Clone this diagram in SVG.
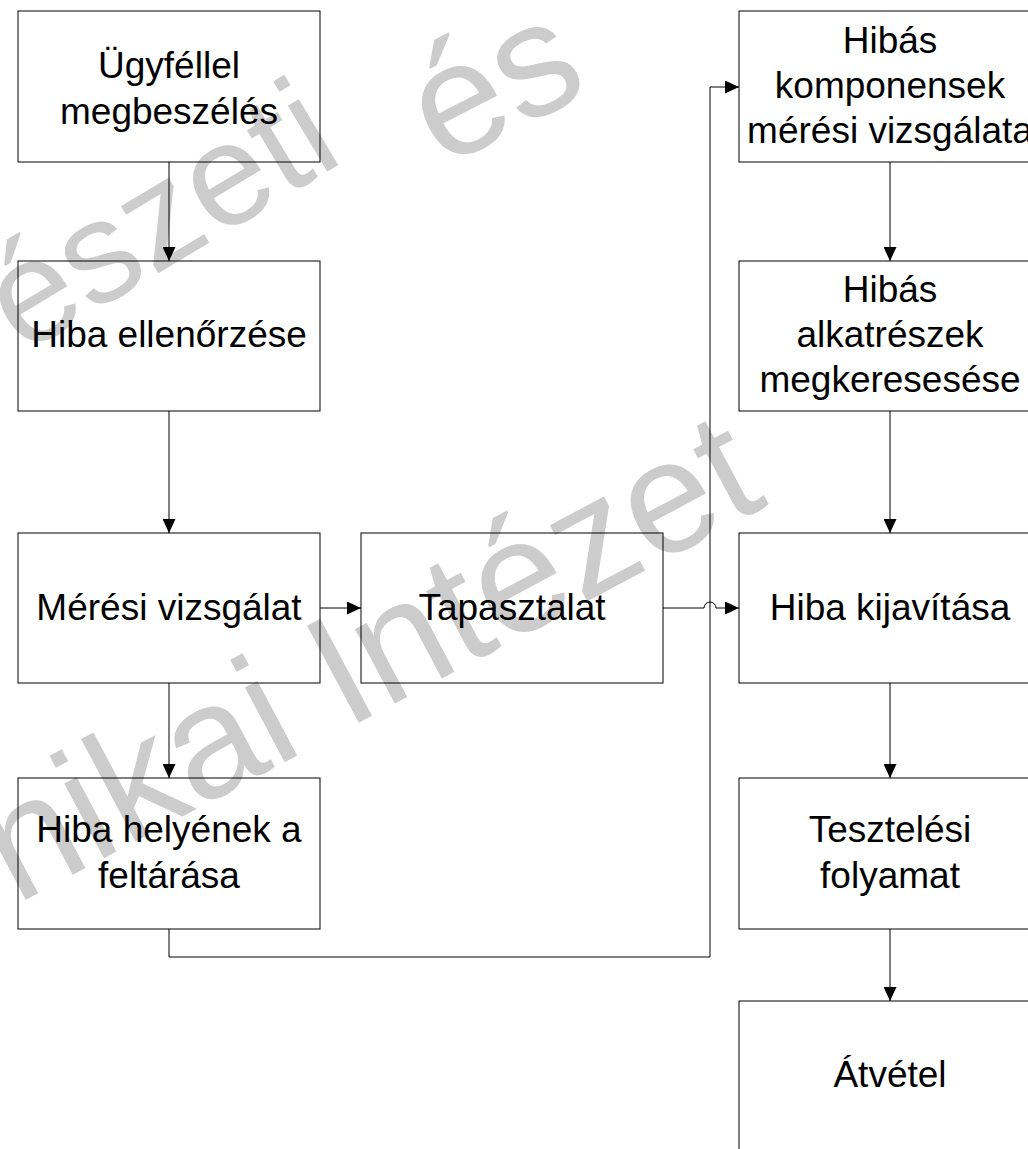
<svg xmlns="http://www.w3.org/2000/svg" width="1028" height="1149" viewBox="0 0 1028 1149">
  <defs>
    <marker id="arrow" viewBox="0 0 14 13" refX="14" refY="6.5" markerWidth="14" markerHeight="13" markerUnits="userSpaceOnUse" orient="auto">
      <path d="M0,0 L14,6.5 L0,13 Z" fill="#000"/>
    </marker>
    <style>
      .box { fill: none; stroke: #000; stroke-width: 1; }
      .lbl { font-family: "Liberation Sans", Arial, sans-serif; font-size: 37px; fill: #000; text-anchor: middle; }
      .wm { font-family: "Liberation Sans", Arial, sans-serif; fill: #cccccc; }
      .conn { fill: none; stroke: #000; stroke-width: 1; }
    </style>
  </defs>
  <rect width="1028" height="1149" fill="#fff"/>

  <!-- background watermark -->
  <g id="watermark">
    <text class="wm" font-size="145" transform="translate(22,355) rotate(-31)">észeti</text>
    <text class="wm" font-size="160" transform="translate(442,168) rotate(-27)">és</text>
    <text class="wm" font-size="160" transform="translate(16,905) rotate(-28)">nikai Intézet</text>
  </g>

  <!-- left column -->
  <g id="n-ugyfel">
    <rect class="box" x="18" y="11" width="302" height="151"/>
    <text class="lbl" x="169" y="78">Ügyféllel</text>
    <text class="lbl" x="169" y="124">megbeszélés</text>
  </g>
  <g id="n-ellenorzes">
    <rect class="box" x="18" y="261" width="302" height="150"/>
    <text class="lbl" x="169" y="347">Hiba ellenőrzése</text>
  </g>
  <g id="n-meres">
    <rect class="box" x="18" y="533" width="302" height="150"/>
    <text class="lbl" x="169" y="620">Mérési vizsgálat</text>
  </g>
  <g id="n-hely">
    <rect class="box" x="18" y="778" width="302" height="151"/>
    <text class="lbl" x="169" y="842">Hiba helyének a</text>
    <text class="lbl" x="169" y="888">feltárása</text>
  </g>

  <!-- middle -->
  <g id="n-tapasztalat">
    <rect class="box" x="361" y="533" width="302" height="150"/>
    <text class="lbl" x="512" y="620">Tapasztalat</text>
  </g>

  <!-- right column -->
  <g id="n-komponensek">
    <rect class="box" x="739" y="11" width="302" height="151"/>
    <text class="lbl" x="890" y="53">Hibás</text>
    <text class="lbl" x="890" y="98">komponensek</text>
    <text class="lbl" x="890" y="143">mérési vizsgálata</text>
  </g>
  <g id="n-alkatreszek">
    <rect class="box" x="739" y="261" width="302" height="150"/>
    <text class="lbl" x="890" y="302">Hibás</text>
    <text class="lbl" x="890" y="347">alkatrészek</text>
    <text class="lbl" x="890" y="392">megkeresesése</text>
  </g>
  <g id="n-javitas">
    <rect class="box" x="739" y="533" width="302" height="150"/>
    <text class="lbl" x="890" y="620">Hiba kijavítása</text>
  </g>
  <g id="n-teszt">
    <rect class="box" x="739" y="778" width="302" height="151"/>
    <text class="lbl" x="890" y="842">Tesztelési</text>
    <text class="lbl" x="890" y="888">folyamat</text>
  </g>
  <g id="n-atvetel">
    <rect class="box" x="739" y="1001" width="302" height="151"/>
    <text class="lbl" x="890" y="1087">Átvétel</text>
  </g>

  <!-- connectors -->
  <g id="connectors">
    <path class="conn" d="M169,162 V261" marker-end="url(#arrow)"/>
    <path class="conn" d="M169,411 V533" marker-end="url(#arrow)"/>
    <path class="conn" d="M169,683 V778" marker-end="url(#arrow)"/>
    <path class="conn" d="M320,608 H361" marker-end="url(#arrow)"/>
    <path class="conn" d="M663,608 H704 A6,6 0 0 1 716,608 H739" marker-end="url(#arrow)"/>
    <path class="conn" d="M169,929 V957 H710 V87 H739" marker-end="url(#arrow)"/>
    <path class="conn" d="M890,162 V261" marker-end="url(#arrow)"/>
    <path class="conn" d="M890,411 V533" marker-end="url(#arrow)"/>
    <path class="conn" d="M890,683 V778" marker-end="url(#arrow)"/>
    <path class="conn" d="M890,929 V1001" marker-end="url(#arrow)"/>
  </g>
</svg>
